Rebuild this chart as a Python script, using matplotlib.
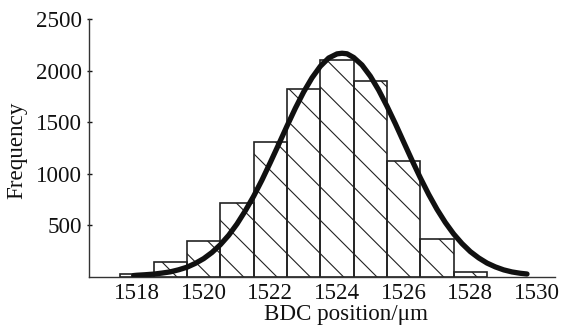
import matplotlib
matplotlib.use("Agg")
import matplotlib.pyplot as plt

# Histogram data (bin centres, bin width 1 µm)
bin_centers = [1518, 1519, 1520, 1521, 1522, 1523, 1524, 1525, 1526, 1527, 1528]
frequencies = [29, 142, 349, 714, 1311, 1819, 2100, 1902, 1124, 371, 48]

# Fitted curve points
curve_x = [1517.9, 1518.0, 1518.25, 1518.5, 1518.75, 1519.0, 1519.25, 1519.5, 1519.75,
           1520.0, 1520.25, 1520.5, 1520.75, 1521.0, 1521.25, 1521.5, 1521.75,
           1522.0, 1522.25, 1522.5, 1522.75, 1523.0, 1523.25, 1523.5, 1523.75,
           1524.0, 1524.15, 1524.3, 1524.5, 1524.75, 1525.0, 1525.25, 1525.5, 1525.75,
           1526.0, 1526.25, 1526.5, 1526.75, 1527.0, 1527.25, 1527.5, 1527.75,
           1528.0, 1528.25, 1528.5, 1528.75, 1529.0, 1529.25, 1529.5, 1529.7]
curve_y = [14, 17, 22, 28, 38, 50, 70, 95, 132,
           178, 238, 313, 404, 514, 642, 783, 940,
           1110, 1285, 1463, 1635, 1793, 1930, 2042, 2122,
           2162, 2168, 2163, 2127, 2054, 1946, 1811, 1655, 1486,
           1308, 1131, 961, 801, 656, 528, 417, 324,
           246, 185, 135, 98, 69, 49, 36, 29]

x_ticks = [1518, 1520, 1522, 1524, 1526, 1528, 1530]
y_ticks = [500, 1000, 1500, 2000, 2500]

plt.rcParams['font.family'] = ['Liberation Serif', 'DejaVu Serif']
plt.rcParams['hatch.linewidth'] = 0.4
plt.rcParams['hatch.color'] = '#222222'

DPI = 200
fig = plt.figure(figsize=(562 / DPI, 333 / DPI), dpi=DPI)
ax = fig.add_axes([89 / 562, 1 - 277 / 333, (555 - 89) / 562, (277 - 19) / 333])

ax.bar(bin_centers, frequencies, width=1.0, fill=False, edgecolor='#222222',
       linewidth=0.6, hatch='\\\\', zorder=2)
ax.plot(curve_x, curve_y, color='#111111', linewidth=1.9,
        solid_capstyle='round', solid_joinstyle='round', zorder=3)

ax.set_xlim(1516.56, 1530.54)
ax.set_ylim(0, 2500)
ax.set_xticks(x_ticks)
ax.set_yticks(y_ticks)

for s in ['top', 'right']:
    ax.spines[s].set_visible(False)
for s in ['left', 'bottom']:
    ax.spines[s].set_linewidth(0.5)
    ax.spines[s].set_color('#333333')

ax.tick_params(axis='x', length=0, pad=2.2, labelsize=8.3, colors='#111111')
ax.tick_params(axis='y', length=1.8, width=0.5, direction='inout', pad=1.6,
               labelsize=8.3, colors='#111111')

ax.set_xlabel('BDC position/μm', fontsize=8.3, color='#111111')
ax.xaxis.set_label_coords(0.551, -0.105)
ax.set_ylabel('Frequency', fontsize=8.3, color='#111111')
ax.yaxis.set_label_coords(-0.133, 0.49)

fig.savefig('out.png', dpi=DPI)
